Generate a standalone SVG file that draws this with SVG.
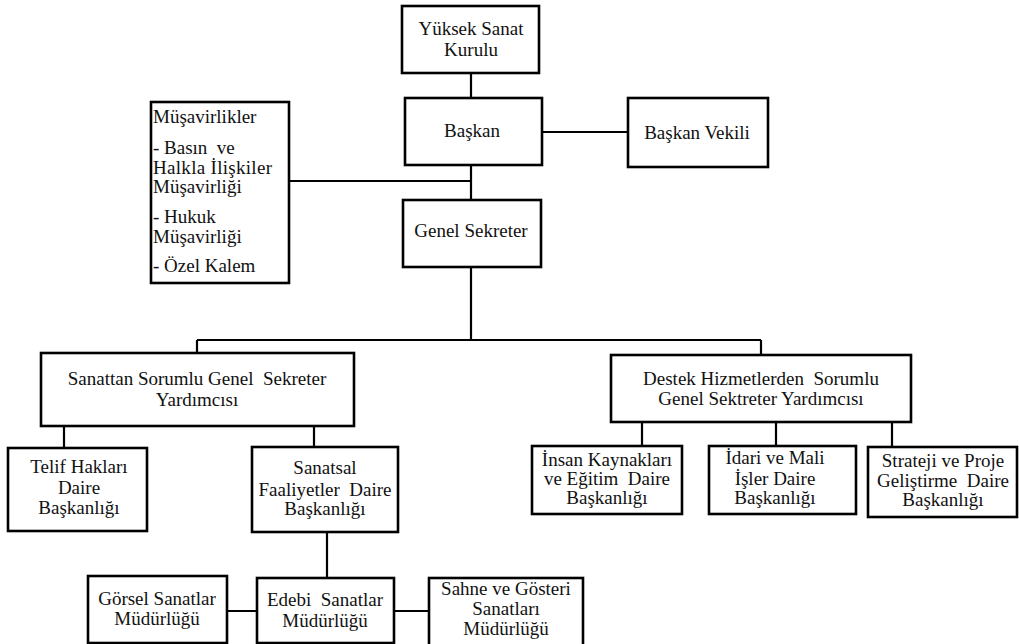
<svg xmlns="http://www.w3.org/2000/svg" width="1019" height="644" viewBox="0 0 1019 644">
<rect width="1019" height="644" fill="#fff"/>
<g id="connectors" fill="none" stroke="#000" stroke-width="2.2">
<path d="M471 73V98M542 132H628M471 165V200M289 181H471M471 267V340M197 340H761M197 340V353M761 340V355M64 426V448M314 426V447M642 422V446M776 422V446M892 422V447M327 532V578M227 611H257M394 611H429"/>
</g>
<g id="nodes" font-family="Liberation Serif" font-size="19" fill="#111">
<g fill="#fff" stroke="#000" stroke-width="2.6">
<rect x="402" y="6" width="137" height="67"/>
<rect x="405" y="98" width="137" height="67"/>
<rect x="628" y="98" width="140" height="69"/>
<rect x="151" y="102" width="138" height="181"/>
<rect x="403" y="200" width="138" height="67"/>
<rect x="41" y="353" width="313" height="73"/>
<rect x="611" y="355" width="300" height="67"/>
<rect x="8" y="448" width="139" height="83"/>
<rect x="252" y="447" width="146" height="85"/>
<rect x="532" y="446" width="150" height="68"/>
<rect x="709" y="446" width="147" height="68"/>
<rect x="868" y="447" width="149" height="70"/>
<rect x="88" y="576" width="139" height="67"/>
<rect x="257" y="578" width="137" height="65"/>
<rect x="429" y="578" width="154" height="70"/>
</g>
<g id="yuksek" text-anchor="middle"><text x="471" y="35">Yüksek Sanat</text><text x="471" y="56">Kurulu</text></g>
<g id="baskan" text-anchor="middle"><text x="472" y="137">Başkan</text></g>
<g id="baskan-vekili" text-anchor="middle"><text x="697" y="139">Başkan Vekili</text></g>
<g id="musavirlikler">
<text x="153" y="123">Müşavirlikler</text>
<text x="153" y="154">- Basın&#160; ve</text>
<text x="153" y="174" textLength="119" lengthAdjust="spacing">Halkla İlişkiler</text>
<text x="153" y="193">Müşavirliği</text>
<text x="153" y="223">- Hukuk</text>
<text x="153" y="243">Müşavirliği</text>
<text x="153" y="272">- Özel Kalem</text></g>
<g id="genel-sekreter" text-anchor="middle"><text x="471" y="237">Genel Sekreter</text></g>
<g id="sanattan" text-anchor="middle"><text x="197" y="385">Sanattan Sorumlu Genel&#160; Sekreter</text><text x="197" y="406">Yardımcısı</text></g>
<g id="destek" text-anchor="middle"><text x="761" y="385">Destek Hizmetlerden&#160; Sorumlu</text><text x="761" y="405">Genel Sektreter Yardımcısı</text></g>
<g id="telif" text-anchor="middle"><text x="79" y="473">Telif Hakları</text><text x="79" y="494">Daire</text><text x="79" y="514">Başkanlığı</text></g>
<g id="sanatsal" text-anchor="middle"><text x="325" y="474">Sanatsal</text><text x="325" y="496">Faaliyetler&#160; Daire</text><text x="325" y="515">Başkanlığı</text></g>
<g id="insan" text-anchor="middle"><text x="607" y="466">İnsan Kaynakları</text><text x="607" y="485">ve Eğitim&#160; Daire</text><text x="607" y="504">Başkanlığı</text></g>
<g id="idari" text-anchor="middle"><text x="775" y="464">İdari ve Mali</text><text x="775" y="485">İşler Daire</text><text x="775" y="504">Başkanlığı</text></g>
<g id="strateji" text-anchor="middle"><text x="943" y="467">Strateji ve Proje</text><text x="943" y="487">Geliştirme&#160; Daire</text><text x="943" y="506">Başkanlığı</text></g>
<g id="gorsel" text-anchor="middle"><text x="157" y="605">Görsel Sanatlar</text><text x="157" y="625">Müdürlüğü</text></g>
<g id="edebi" text-anchor="middle"><text x="325" y="606">Edebi&#160; Sanatlar</text><text x="325" y="627">Müdürlüğü</text></g>
<g id="sahne" text-anchor="middle"><text x="506" y="595">Sahne ve Gösteri</text><text x="506" y="615">Sanatları</text><text x="506" y="635">Müdürlüğü</text></g>
</g>
</svg>
